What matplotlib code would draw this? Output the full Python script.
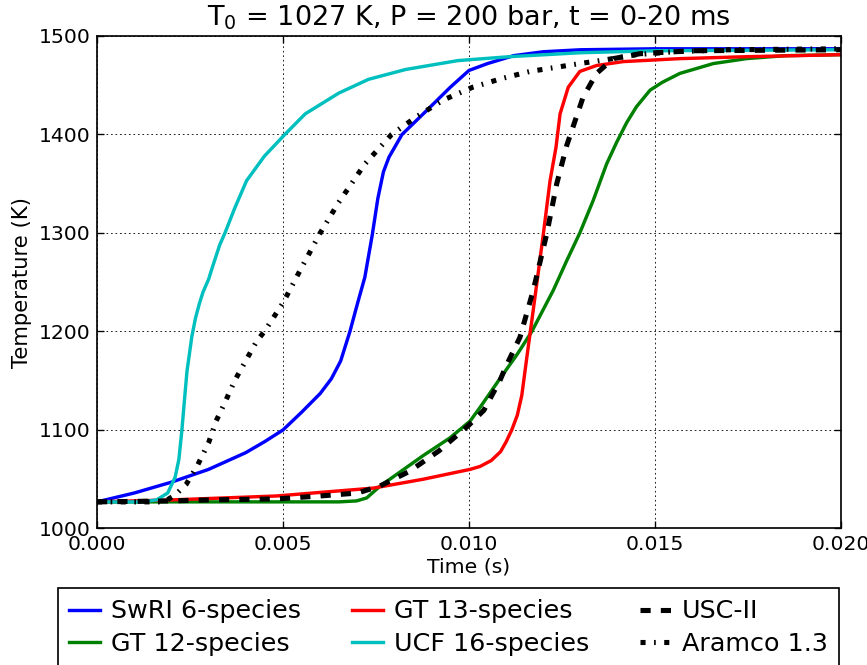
import matplotlib
matplotlib.use("Agg")
import matplotlib.pyplot as plt

# Temperature traces (time in ms, temperature in K)
swri_t = [0, 1.0, 2.0, 3.0, 4.0, 4.5, 5.0, 5.5, 6.0, 6.3, 6.55, 6.8, 7.0, 7.2, 7.4,
          7.55, 7.7, 7.85, 8.2, 8.8, 9.5, 10.0, 10.5, 11.2, 12.0, 13.0, 15.0, 20.0]
swri_T = [1027, 1036, 1047, 1060, 1077, 1088, 1100, 1118, 1137, 1152, 1170, 1200, 1228,
          1255, 1298, 1335, 1362, 1377, 1400, 1422, 1448, 1465, 1472, 1480, 1484, 1486,
          1487, 1487]

gt12_t = [0, 6.5, 6.98, 7.25, 7.61, 8.06, 8.77, 9.49, 10.03, 10.3, 10.83, 11.3, 11.69,
          12.27, 12.63, 12.98, 13.34, 13.7, 13.97, 14.24, 14.5, 14.87, 15.2, 15.67, 16.57,
          17.46, 18.5, 20.0]
gt12_T = [1027, 1027, 1028, 1031, 1043, 1055, 1074, 1092, 1109, 1123, 1152, 1177, 1200,
          1242, 1272, 1300, 1333, 1370, 1392, 1412, 1428, 1445, 1453, 1462, 1472, 1477,
          1480, 1481]

gt13_t = [0, 2.0, 4.83, 7.43, 8.77, 10.03, 10.3, 10.6, 10.85, 11.0, 11.15, 11.3, 11.42,
          11.55, 11.69, 11.86, 12.0, 12.18, 12.34, 12.45, 12.67, 12.98, 13.43, 14.15, 15.67,
          17.5, 20.0]
gt13_T = [1027, 1029, 1033, 1041, 1050, 1060, 1063, 1069, 1078, 1088, 1100, 1115, 1135,
          1172, 1211, 1259, 1299, 1353, 1387, 1421, 1448, 1464, 1470, 1474, 1477, 1479, 1481]

ucf_t = [0, 1.2, 1.6, 1.9, 2.1, 2.2, 2.28, 2.35, 2.42, 2.55, 2.65, 2.75, 2.85, 3.0, 3.1,
         3.3, 3.44, 3.7, 4.02, 4.5, 5.05, 5.6, 6.5, 7.3, 8.3, 9.7, 11.1, 13.0, 15.0, 20.0]
ucf_T = [1027, 1027, 1029, 1036, 1052, 1070, 1099, 1130, 1160, 1195, 1214, 1228, 1240,
         1253, 1265, 1288, 1300, 1325, 1353, 1378, 1400, 1421, 1442, 1456, 1466, 1475,
         1479, 1483, 1485, 1486]

usc_t = [0, 2.0, 3.0, 4.83, 6.0, 7.0, 7.6, 8.4, 9.2, 10.0, 10.4, 10.83, 11.0, 11.37,
         11.73, 12.09, 12.36, 12.63, 13.07, 13.43, 13.88, 14.6, 16.0, 20.0]
usc_T = [1027, 1028, 1029, 1030, 1033, 1036, 1043, 1058, 1079, 1105, 1120, 1150, 1165,
         1194, 1242, 1299, 1350, 1389, 1438, 1462, 1477, 1482, 1485, 1486]

aramco_t = [0, 1.8, 2.1, 2.4, 2.7, 3.0, 3.2, 3.44, 3.7, 4.29, 4.5, 5.0, 5.46, 6.0, 6.48,
            7.2, 7.92, 8.59, 9.31, 10.1, 10.9, 11.64, 12.98, 13.7, 14.5, 15.5, 17.0, 20.0]
aramco_T = [1027, 1027, 1034, 1045, 1064, 1087, 1109, 1128, 1150, 1190, 1200, 1229, 1262,
            1300, 1330, 1370, 1400, 1418, 1435, 1448, 1457, 1464, 1472, 1476, 1481, 1484,
            1486, 1487]

plt.rcParams.update({
    "font.size": 12,
    "lines.scale_dashes": False,
    "xtick.direction": "in",
    "ytick.direction": "in",
    "xtick.top": True,
    "ytick.right": True,
    "xtick.major.size": 4,
    "ytick.major.size": 4,
    "xtick.major.pad": 4,
    "ytick.major.pad": 4,
    "axes.linewidth": 1.0,
})

fig = plt.figure(figsize=(867 / 122, 665 / 122), dpi=122)
ax = fig.add_axes([0.1119, 0.2053, 0.858, 0.7406])

ms = lambda v: [x / 1000.0 for x in v]
ax.plot(ms(swri_t), swri_T, color=(0, 0, 1), lw=2, label="SwRI 6-species")
ax.plot(ms(gt12_t), gt12_T, color=(0, 0.5, 0), lw=2, label="GT 12-species")
ax.plot(ms(gt13_t), gt13_T, color=(1, 0, 0), lw=2, label="GT 13-species")
ax.plot(ms(ucf_t), ucf_T, color=(0, 0.75, 0.75), lw=2, label="UCF 16-species")
ax.plot(ms(usc_t), usc_T, color="k", lw=3, dashes=(6, 6), dash_capstyle="butt",
        label="USC-II")
ax.plot(ms(aramco_t), aramco_T, color="k", lw=3, dashes=(3, 5, 1, 5),
        dash_capstyle="butt", label="Aramco 1.3")

ax.set_xlim(0, 0.02)
ax.set_ylim(1000, 1500)
ax.set_xticks([0.0, 0.005, 0.010, 0.015, 0.020])
ax.set_xticklabels(["0.000", "0.005", "0.010", "0.015", "0.020"])
ax.set_yticks([1000, 1100, 1200, 1300, 1400, 1500])
ax.grid(True, color="k", linestyle=":", linewidth=0.5)
ax.set_xlabel("Time (s)", labelpad=2)
ax.set_ylabel("Temperature (K)", fontsize=12.5)
ax.set_title("T$_0$ = 1027 K, P = 200 bar, t = 0-20 ms", fontsize=16)

leg = ax.legend(loc="upper left", bbox_to_anchor=(58 / 867, 1 - 588 / 665),
                bbox_transform=fig.transFigure, borderaxespad=0, ncol=3,
                fancybox=False, framealpha=1, edgecolor="k", fontsize=15,
                handlelength=1.2, handletextpad=0.45, columnspacing=2.0,
                labelspacing=0.35, borderpad=0.45)
leg.get_frame().set_linewidth(1.0)

fig.savefig("out.png", dpi=122)
